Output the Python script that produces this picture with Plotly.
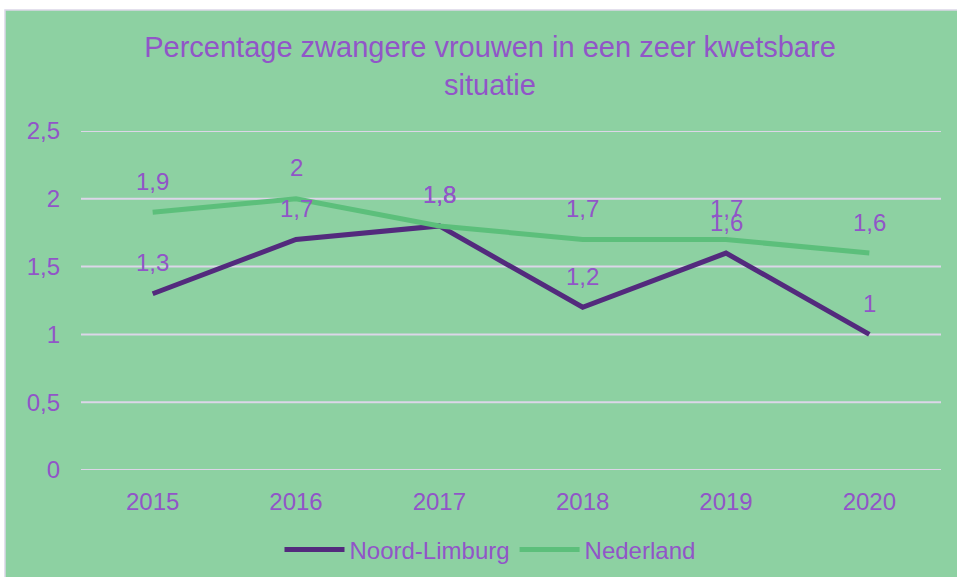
import plotly.graph_objects as go

# ---------------------------------------------------------------------------
# Data
# ---------------------------------------------------------------------------
JAREN = ["2015", "2016", "2017", "2018", "2019", "2020"]
NOORD_LIMBURG = [1.3, 1.7, 1.8, 1.2, 1.6, 1.0]
NEDERLAND = [1.9, 2.0, 1.8, 1.7, 1.7, 1.6]
Y_TICKS = [0, 0.5, 1, 1.5, 2, 2.5]
Y_TICK_LABELS = ["0", "0,5", "1", "1,5", "2", "2,5"]

TITEL = "Percentage zwangere vrouwen in een zeer kwetsbare<br>situatie"

# Colors
BG_GREEN = "#8DD1A2"
TEXT_PURPLE = "#9155C8"
LINE_PURPLE = "#532A7D"
LINE_GREEN = "#5CBF7B"
GRID = "#DCD6E8"
FONT = "Liberation Sans, Arial, sans-serif"

# page geometry (px)
W, H = 957, 577
ML, MR, MT, MB = 81, 16, 131, 107
PW, PH = W - ML - MR, H - MT - MB


def px_x(x):
    return (x - ML) / PW


def px_y(y):
    return (H - MB - y) / PH


def label(v):
    return f"{v:g}".replace(".", ",")


fig = go.Figure()

series = [
    ("Noord-Limburg", NOORD_LIMBURG, LINE_PURPLE),
    ("Nederland", NEDERLAND, LINE_GREEN),
]

for name, vals, col in series:
    fig.add_trace(go.Scatter(
        x=JAREN,
        y=vals,
        mode="lines",
        name=name,
        line=dict(color=col, width=5),
        hoverinfo="skip",
    ))

# data labels above each point (x as category index)
annotations = []
for name, vals, col in series:
    for i, v in enumerate(vals):
        annotations.append(dict(
            x=i, y=v, xref="x", yref="y",
            text=label(v), showarrow=False,
            yshift=31,
            font=dict(family=FONT, size=24, color=TEXT_PURPLE),
        ))

shapes = [
    # green chart area with light border
    dict(type="rect", xref="paper", yref="paper", layer="below",
         x0=px_x(5), x1=px_x(W + 5), y0=px_y(H + 5), y1=px_y(10),
         fillcolor=BG_GREEN, line=dict(color=GRID, width=1.5)),
]
# horizontal gridlines (incl. the ones on the range edges)
for t in Y_TICKS:
    shapes.append(dict(type="line", xref="paper", yref="y", layer="below",
                       x0=0, x1=1, y0=t, y1=t,
                       line=dict(color=GRID, width=2)))

fig.update_layout(
    width=W,
    height=H,
    margin=dict(l=ML, r=MR, t=MT, b=MB, autoexpand=False),
    paper_bgcolor="white",
    plot_bgcolor="rgba(0,0,0,0)",
    font=dict(family=FONT, size=24, color=TEXT_PURPLE),
    title=dict(
        text=TITEL,
        x=px_x(490), xref="paper", xanchor="center",
        y=1 - 57 / H, yref="container", yanchor="middle",
        font=dict(family=FONT, size=29, color=TEXT_PURPLE),
    ),
    xaxis=dict(
        type="category",
        range=[-0.5, 5.5],
        showgrid=False,
        showline=False,
        zeroline=False,
        ticks="",
        ticklabelstandoff=15,
        tickfont=dict(family=FONT, size=24, color=TEXT_PURPLE),
    ),
    yaxis=dict(
        range=[0, 2.5],
        tickvals=Y_TICKS,
        ticktext=Y_TICK_LABELS,
        showgrid=False,
        zeroline=False,
        showline=False,
        ticks="",
        ticklabelstandoff=20,
        tickfont=dict(family=FONT, size=24, color=TEXT_PURPLE),
    ),
    showlegend=True,
    legend=dict(
        orientation="h",
        x=px_x(490), xanchor="center",
        y=px_y(550), yanchor="middle",
        bgcolor="rgba(0,0,0,0)",
        font=dict(family=FONT, size=24, color=TEXT_PURPLE),
        itemwidth=60,
    ),
    shapes=shapes,
    annotations=annotations,
    hovermode=False,
)

fig.write_html(
    "out.html",
    config={"displayModeBar": False},
    post_script="document.body.style.margin='0';",
)
